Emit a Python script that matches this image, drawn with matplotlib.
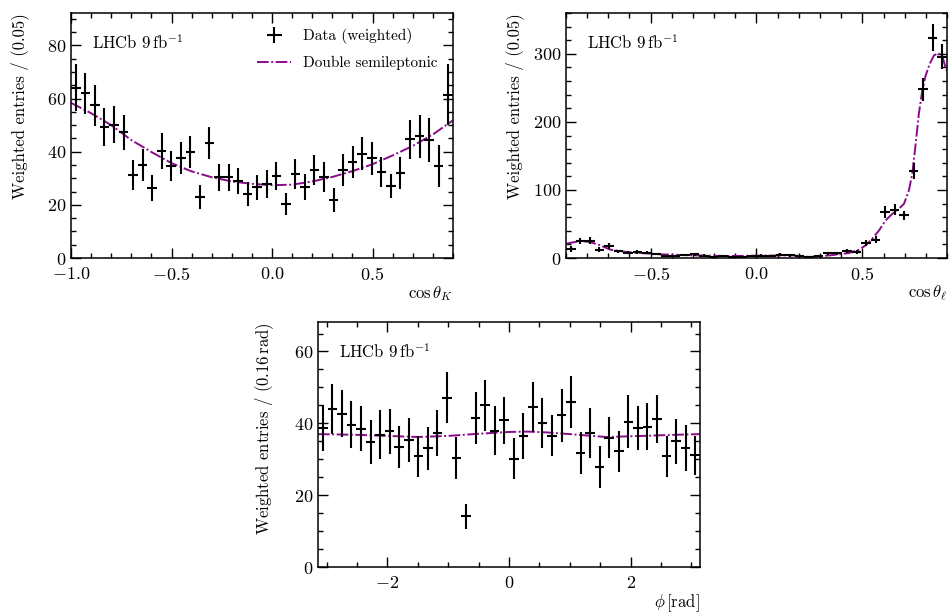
import numpy as np
import matplotlib
matplotlib.use('Agg')
import matplotlib.pyplot as plt
from matplotlib.ticker import MultipleLocator

plt.rcParams['font.family'] = 'serif'
plt.rcParams['font.serif'] = ['cmr10']
plt.rcParams['mathtext.fontset'] = 'cm'
plt.rcParams['axes.formatter.use_mathtext'] = True

###data###
# cos theta_K : 40 bins in [-1, 0.9]
ck_edges = np.linspace(-1.0, 0.9, 41)
ck_vals = [64.1, 62.0, 57.4, 49.2, 50.1, 47.3, 31.1, 35.0, 26.5, 40.3,
           34.6, 37.7, 40.0, 23.0, 43.3, 30.3, 30.3, 28.9, 24.0, 26.6,
           27.8, 30.9, 20.3, 31.6, 26.8, 33.0, 30.5, 21.7, 33.0, 36.1,
           39.2, 37.5, 32.5, 27.1, 32.0, 44.6, 45.8, 44.5, 34.7, 61.5]
ck_errs = [8.8, 7.7, 7.7, 7.2, 7.0, 6.7, 5.6, 5.9, 4.9, 6.8,
           5.6, 6.1, 6.1, 4.6, 6.0, 5.0, 5.2, 5.0, 4.6, 4.8,
           5.2, 5.2, 4.2, 5.5, 4.8, 5.6, 5.7, 4.5, 6.0, 6.1,
           6.2, 6.1, 5.6, 4.6, 6.0, 7.5, 8.0, 8.2, 8.0, 11.6]
ck_curve_x = [-1.0, -0.9, -0.8, -0.7, -0.6, -0.5, -0.4, -0.3, -0.2, -0.1,
              0.0, 0.1, 0.2, 0.3, 0.4, 0.5, 0.6, 0.7, 0.8, 0.9]
ck_curve_y = [58.4, 54.5, 50.0, 44.4, 39.9, 35.7, 32.6, 30.4, 28.8, 27.9,
              27.4, 27.6, 28.8, 30.5, 32.7, 35.3, 38.6, 42.2, 46.5, 51.8]

# cos theta_l : 40 bins in [-0.9, 0.9]
cl_edges = np.linspace(-0.9, 0.9, 41)
cl_vals = [13.2, 25.0, 25.4, 12.2, 17.6, 9.8, 7.8, 8.8, 7.8, 5.9,
           2.9, 2.9, 4.4, 5.4, 3.4, 2.0, 2.4, 2.0, 2.0, 2.9,
           3.4, 2.9, 4.9, 3.9, 2.4, 1.5, 2.9, 6.9, 6.9, 10.3,
           9.3, 22.0, 26.9, 67.5, 71.0, 62.6, 127.5, 248.0, 323.5, 296.0]
cl_errs = [4.0, 5.0, 5.0, 3.5, 4.0, 2.5, 2.5, 2.5, 2.5, 2.0,
           1.8, 1.8, 2.0, 2.0, 1.8, 1.5, 1.5, 1.5, 1.5, 1.8,
           1.8, 1.8, 2.0, 2.0, 1.5, 1.5, 1.8, 2.5, 2.5, 3.0,
           3.0, 4.5, 5.0, 9.0, 8.0, 7.0, 12.0, 17.0, 20.0, 19.0]
cl_curve_x = [-0.9, -0.833, -0.786, -0.739, -0.69, -0.613, -0.456, -0.3, -0.14, 0.016,
              0.17, 0.25, 0.35, 0.437, 0.484, 0.516, 0.547, 0.579, 0.61, 0.642,
              0.673, 0.697, 0.72, 0.736, 0.752, 0.767, 0.783, 0.799, 0.818, 0.838,
              0.858, 0.877, 0.893, 0.9]
cl_curve_y = [21.0, 25.0, 23.5, 18.6, 12.2, 8.8, 5.4, 3.9, 2.9, 3.4,
              3.9, 1.5, 4.0, 7.3, 12.2, 18.6, 28.4, 40.6, 55.3, 65.0,
              72.4, 79.8, 99.4, 123.8, 168.0, 212.0, 246.0, 268.0, 285.0, 297.6,
              301.0, 297.6, 280.0, 275.0]

# phi : 40 bins in [-pi, pi]
phi_edges = np.linspace(-np.pi, np.pi, 41)
phi_vals = [38.7, 44.0, 42.7, 39.6, 38.5, 34.8, 36.8, 37.8, 33.4, 35.4,
            30.8, 33.1, 37.3, 47.1, 30.4, 14.1, 41.5, 45.0, 38.0, 40.8,
            30.2, 36.4, 44.5, 40.1, 36.5, 42.2, 45.9, 31.7, 37.3, 27.8,
            36.0, 32.2, 40.5, 38.7, 39.1, 41.1, 30.8, 35.0, 33.1, 31.1]
phi_errs = [6.5, 7.0, 6.6, 6.5, 6.3, 6.0, 6.8, 6.3, 5.8, 6.1,
            5.6, 6.0, 6.5, 7.1, 5.8, 3.5, 7.2, 7.2, 6.7, 6.5,
            5.8, 6.4, 7.0, 6.9, 5.7, 7.3, 7.2, 5.9, 6.9, 5.8,
            5.7, 5.8, 7.3, 6.0, 6.6, 6.7, 5.6, 6.3, 6.3, 5.5]
phi_curve_x = [-3.1416, -2.5, -2.0, -1.5, -1.0, -0.5, 0.0, 0.3, 0.6, 1.0, 1.6, 2.2, 2.7, 3.1416]
phi_curve_y = [37.0, 36.8, 36.5, 36.2, 36.5, 37.1, 37.6, 37.7, 37.5, 37.0, 36.2, 36.5, 36.8, 37.0]

purple = '#8b0a8b'


def panel(ax, edges, vals, errs, cx, cy, xlabel, ylabel, xlim, ylim, xminor, yminor, xmajor, ymajor):
    centers = 0.5 * (edges[1:] + edges[:-1])
    half = 0.5 * (edges[1:] - edges[:-1])
    ax.errorbar(centers, vals, xerr=half, yerr=errs, fmt='none', ecolor='black',
                elinewidth=1.5, capsize=0, label='Data (weighted)', zorder=3)
    ax.plot(cx, cy, color=purple, lw=1.4, ls=(0, (6, 1.3, 1, 1.3)),
            label='Double semileptonic', zorder=2)
    ax.set_xlim(*xlim)
    ax.set_ylim(*ylim)
    ax.xaxis.set_major_locator(MultipleLocator(xmajor))
    ax.yaxis.set_major_locator(MultipleLocator(ymajor))
    ax.xaxis.set_minor_locator(MultipleLocator(xminor))
    ax.yaxis.set_minor_locator(MultipleLocator(yminor))
    ax.tick_params(which='both', direction='in', top=True, right=True, labelsize=13, width=1.0)
    ax.tick_params(which='major', length=7)
    ax.tick_params(which='minor', length=3.5)
    ax.tick_params(axis='x', pad=6)
    for s in ax.spines.values():
        s.set_linewidth(1.1)
    ax.set_xlabel(xlabel, loc='right', fontsize=12)
    ax.set_ylabel(ylabel, loc='top', fontsize=12)
    ax.xaxis.set_label_coords(1.0, -0.105)
    ax.yaxis.set_label_coords(-0.11, 1.0)
    ax.text(0.055, 0.88, r'LHCb $9\,\mathrm{fb}^{-1}$', transform=ax.transAxes,
            fontsize=12, va='center', ha='left')


fig = plt.figure(figsize=(9.49, 6.14), dpi=100)
ax1 = fig.add_axes([0.0748, 0.5798, 0.4025, 0.399])
ax2 = fig.add_axes([0.5964, 0.5798, 0.4015, 0.399])
ax3 = fig.add_axes([0.3351, 0.0765, 0.4025, 0.399])

panel(ax1, ck_edges, ck_vals, ck_errs, ck_curve_x, ck_curve_y,
      r'$\cos\theta_K$', 'Weighted entries / (0.05)',
      (-1.0, 0.9), (0, 92.2), 0.1, 5, 0.5, 20)
panel(ax2, cl_edges, cl_vals, cl_errs, cl_curve_x, cl_curve_y,
      r'$\cos\theta_\ell$', 'Weighted entries / (0.05)',
      (-0.9, 0.9), (0, 360), 0.1, 20, 0.5, 100)
panel(ax3, phi_edges, phi_vals, phi_errs, phi_curve_x, phi_curve_y,
      r'$\phi\,[\mathrm{rad}]$', r'Weighted entries / (0.16$\,$rad)',
      (-np.pi, np.pi), (0, 68.2), 0.5, 5, 2, 20)

handles, labels = ax1.get_legend_handles_labels()
order = [labels.index('Data (weighted)'), labels.index('Double semileptonic')]
ax1.legend([handles[i] for i in order], [labels[i] for i in order],
           loc='upper right', frameon=False, fontsize=11, bbox_to_anchor=(1.0, 1.0),
           handlelength=2.2, borderaxespad=0.6, labelspacing=0.75)

fig.savefig('out.png', dpi=100)
